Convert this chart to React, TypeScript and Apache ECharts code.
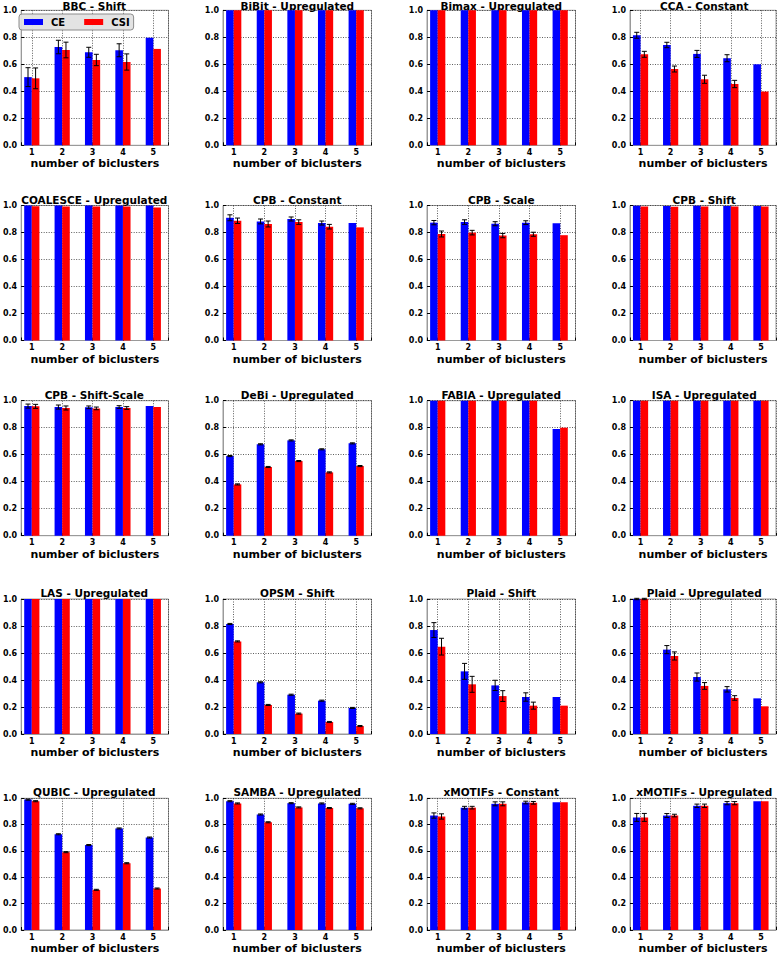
import React, { useEffect, useRef } from 'react';
import * as echarts from 'echarts';

// ---------- data ----------
const CATEGORIES = [1, 2, 3, 4, 5];
const SERIES_NAMES = ['CE', 'CSI'];
const Y_TICKS = [0, 0.2, 0.4, 0.6, 0.8, 1.0];
const X_LABEL = 'number of biclusters';

const PANEL_TITLES = [
  'BBC - Shift', 'BiBit - Upregulated', 'Bimax - Upregulated', 'CCA - Constant',
  'COALESCE - Upregulated', 'CPB - Constant', 'CPB - Scale', 'CPB - Shift',
  'CPB - Shift-Scale', 'DeBi - Upregulated', 'FABIA - Upregulated', 'ISA - Upregulated',
  'LAS - Upregulated', 'OPSM - Shift', 'Plaid - Shift', 'Plaid - Upregulated',
  'QUBIC - Upregulated', 'SAMBA - Upregulated', 'xMOTIFs - Constant', 'xMOTIFs - Upregulated',
];

const CE_VALUES: number[][] = [
  [0.505, 0.728, 0.689, 0.704, 0.797], // BBC - Shift
  [1, 1, 1, 1, 1],                     // BiBit
  [1, 1, 1, 1, 1],                     // Bimax
  [0.815, 0.743, 0.677, 0.645, 0.600], // CCA
  [1, 1, 1, 1, 1],                     // COALESCE
  [0.909, 0.882, 0.900, 0.870, 0.870], // CPB - Constant
  [0.873, 0.877, 0.865, 0.873, 0.868], // CPB - Scale
  [0.998, 0.997, 0.998, 0.997, 0.997], // CPB - Shift
  [0.960, 0.953, 0.951, 0.953, 0.960], // CPB - Shift-Scale
  [0.590, 0.677, 0.706, 0.640, 0.684], // DeBi
  [1, 1, 1, 1, 0.790],                 // FABIA
  [1, 1, 1, 1, 1],                     // ISA
  [1, 1, 1, 1, 1],                     // LAS
  [0.815, 0.383, 0.291, 0.247, 0.193], // OPSM
  [0.770, 0.464, 0.360, 0.274, 0.274], // Plaid - Shift
  [1.000, 0.625, 0.422, 0.331, 0.264], // Plaid - Upregulated
  [0.990, 0.727, 0.645, 0.771, 0.702], // QUBIC
  [0.978, 0.877, 0.963, 0.961, 0.958], // SAMBA
  [0.869, 0.929, 0.958, 0.968, 0.970], // xMOTIFs - Constant
  [0.855, 0.869, 0.943, 0.963, 0.978], // xMOTIFs - Upregulated
];

const CSI_VALUES: number[][] = [
  [0.496, 0.706, 0.632, 0.617, 0.714],
  [1, 1, 1, 1, 1],
  [1, 1, 1, 1, 1],
  [0.674, 0.565, 0.489, 0.454, 0.398],
  [0.995, 0.993, 0.993, 0.993, 0.985],
  [0.887, 0.863, 0.877, 0.843, 0.838],
  [0.789, 0.799, 0.777, 0.787, 0.780],
  [0.993, 0.990, 0.993, 0.992, 0.992],
  [0.958, 0.946, 0.943, 0.946, 0.953],
  [0.380, 0.509, 0.553, 0.469, 0.516],
  [1, 1, 1, 1, 0.800],
  [1, 1, 1, 1, 1],
  [1, 1, 1, 1, 1],
  [0.686, 0.215, 0.151, 0.089, 0.059],
  [0.647, 0.368, 0.281, 0.210, 0.210],
  [1.000, 0.578, 0.356, 0.267, 0.205],
  [0.978, 0.591, 0.305, 0.507, 0.315],
  [0.961, 0.818, 0.931, 0.926, 0.924],
  [0.862, 0.929, 0.958, 0.966, 0.970],
  [0.855, 0.869, 0.943, 0.963, 0.978],
];

const CE_ERRORS: number[][] = [
  [0.070, 0.050, 0.037, 0.048, 0],
  [0, 0, 0, 0, 0],
  [0, 0, 0, 0, 0],
  [0.022, 0.020, 0.026, 0.026, 0],
  [0, 0, 0, 0, 0],
  [0.022, 0.018, 0.015, 0.015, 0],
  [0.016, 0.017, 0.015, 0.014, 0],
  [0, 0, 0, 0, 0],
  [0.015, 0.015, 0.010, 0.010, 0],
  [0.004, 0.004, 0.004, 0.004, 0.004],
  [0, 0, 0, 0, 0],
  [0, 0, 0, 0, 0],
  [0, 0, 0, 0, 0],
  [0.004, 0.004, 0.004, 0.004, 0.004],
  [0.055, 0.059, 0.038, 0.031, 0],
  [0.005, 0.030, 0.030, 0.020, 0],
  [0.004, 0.004, 0.004, 0.004, 0.004],
  [0.004, 0.004, 0.004, 0.004, 0.004],
  [0.020, 0.010, 0.015, 0.010, 0],
  [0.030, 0.015, 0.013, 0.012, 0],
];

const CSI_ERRORS: number[][] = [
  [0.077, 0.058, 0.042, 0.060, 0],
  [0, 0, 0, 0, 0],
  [0, 0, 0, 0, 0],
  [0.022, 0.022, 0.030, 0.027, 0],
  [0, 0, 0, 0, 0],
  [0.020, 0.022, 0.017, 0.017, 0],
  [0.022, 0.017, 0.016, 0.015, 0],
  [0, 0, 0, 0, 0],
  [0.015, 0.015, 0.010, 0.010, 0],
  [0.004, 0.004, 0.004, 0.004, 0.004],
  [0, 0, 0, 0, 0],
  [0, 0, 0, 0, 0],
  [0, 0, 0, 0, 0],
  [0.004, 0.004, 0.004, 0.004, 0.004],
  [0.062, 0.059, 0.040, 0.026, 0],
  [0.005, 0.030, 0.025, 0.017, 0],
  [0.004, 0.004, 0.004, 0.004, 0.004],
  [0.004, 0.004, 0.004, 0.004, 0.004],
  [0.020, 0.010, 0.015, 0.010, 0],
  [0.030, 0.010, 0.013, 0.012, 0],
];

// ---------- layout / style ----------
const FONT = "'DejaVu Sans', 'Noto Sans', sans-serif";
const COL_LEFT = [20, 223, 427, 630];
const ROW_TOP = [10.3, 205.5, 400.7, 599, 798.3];
const PLOT_W = 148.5;
const PLOT_H = 135;
const BAR_W = 7.6;
const TITLE_SIZE = 10.5;
const COLORS = ['#0000ff', '#ff0000'];
const GRID_LINE = { color: '#333', type: [1, 1.5] as number[], width: 0.8 };

function buildOption() {
  const grids: any[] = [];
  const xAxes: any[] = [];
  const yAxes: any[] = [];
  const series: any[] = [];
  const texts: any[] = [];

  PANEL_TITLES.forEach((title, i) => {
    const row = Math.floor(i / 4);
    const col = i % 4;
    const left = COL_LEFT[col];
    const top = ROW_TOP[row];
    grids.push({
      left, top, width: PLOT_W, height: PLOT_H,
      show: true, borderColor: '#9a9a9a', borderWidth: 1, backgroundColor: 'transparent',
      containLabel: false,
    });
    xAxes.push({
      gridIndex: i, type: 'value', min: 0.65, max: 5.5, splitNumber: 5,
      axisLine: { show: true, lineStyle: { color: '#9a9a9a' } },
      axisTick: { show: true, inside: true, length: 3, lineStyle: { color: '#000' } },
      axisLabel: {
        formatter: (v: number) => (CATEGORIES.indexOf(v) >= 0 ? String(v) : ''),
        fontSize: 8, fontWeight: 'bold', color: '#000', margin: 3, fontFamily: FONT,
      },
      splitLine: { show: true, lineStyle: GRID_LINE },
      name: X_LABEL, nameLocation: 'middle', nameGap: 13,
      nameTextStyle: { fontSize: 11, fontWeight: 'bold', color: '#000', fontFamily: FONT },
    });
    yAxes.push({
      gridIndex: i, type: 'value', min: Y_TICKS[0], max: Y_TICKS[Y_TICKS.length - 1], interval: 0.2,
      axisLine: { show: true, lineStyle: { color: '#9a9a9a' } },
      axisTick: { show: true, inside: true, length: 3, lineStyle: { color: '#000' } },
      axisLabel: {
        formatter: (v: number) => v.toFixed(1),
        fontSize: 8, fontWeight: 'bold', color: '#000', margin: 4, fontFamily: FONT,
      },
      splitLine: { show: true, lineStyle: GRID_LINE },
    });

    const values = [CE_VALUES[i], CSI_VALUES[i]];
    const errors = [CE_ERRORS[i], CSI_ERRORS[i]];
    SERIES_NAMES.forEach((name, s) => {
      series.push({
        type: 'bar', name, xAxisIndex: i, yAxisIndex: i,
        data: CATEGORIES.map((c, j) => [c, values[s][j]]),
        barWidth: BAR_W, barGap: '0%',
        itemStyle: { color: COLORS[s] },
        silent: true,
      });
    });
    SERIES_NAMES.forEach((name, s) => {
      const offset = (s === 0 ? -1 : 1) * BAR_W / 2;
      series.push({
        type: 'custom', name: name + ' error', xAxisIndex: i, yAxisIndex: i,
        data: CATEGORIES.map((c, j) => [c, values[s][j], errors[s][j]]),
        encode: { x: 0, y: 1 },
        silent: true, z: 5,
        renderItem: (params: any, api: any) => {
          const x = api.value(0);
          const y = api.value(1);
          const e = api.value(2);
          if (!e) return null;
          const hi = api.coord([x, y + e]);
          const lo = api.coord([x, y - e]);
          const cx = hi[0] + offset;
          const st = { stroke: '#000', lineWidth: 1 };
          return {
            type: 'group',
            children: [
              { type: 'line', shape: { x1: cx, y1: hi[1], x2: cx, y2: lo[1] }, style: st },
              { type: 'line', shape: { x1: cx - 2.5, y1: hi[1], x2: cx + 2.5, y2: hi[1] }, style: st },
              { type: 'line', shape: { x1: cx - 2.5, y1: lo[1], x2: cx + 2.5, y2: lo[1] }, style: st },
            ],
          };
        },
      });
    });

    texts.push({
      type: 'text', x: left + PLOT_W / 2, y: Math.max(top - 6, TITLE_SIZE / 2 + 0.6), silent: true,
      style: {
        text: title, fill: '#000', align: 'center', verticalAlign: 'middle',
        font: `bold ${TITLE_SIZE}px ${FONT}`,
      },
    });
  });

  return {
    animation: false,
    backgroundColor: '#fff',
    grid: grids,
    xAxis: xAxes,
    yAxis: yAxes,
    series,
    legend: {
      data: SERIES_NAMES, left: 19, top: 14, orient: 'horizontal', icon: 'rect',
      itemWidth: 19, itemHeight: 6, itemGap: 19, padding: [3, 4, 3, 5],
      backgroundColor: 'rgba(226,226,226,0.95)', borderColor: '#8c8c8c', borderWidth: 1, borderRadius: 3,
      selectedMode: false,
      textStyle: { fontFamily: FONT, fontWeight: 'bold', fontSize: 10, color: '#000', padding: [0, 0, 0, 3] },
    },
    graphic: { elements: texts },
  };
}

export default function App() {
  const ref = useRef<HTMLDivElement>(null);
  useEffect(() => {
    if (!ref.current) return;
    const chart = echarts.init(ref.current, null, { renderer: 'svg', width: 779, height: 955 });
    chart.setOption(buildOption() as any);
    return () => chart.dispose();
  }, []);
  return (
    <div
      ref={ref}
      style={{ position: 'absolute', left: 0, top: 0, width: 779, height: 955, background: '#fff' }}
    />
  );
}
